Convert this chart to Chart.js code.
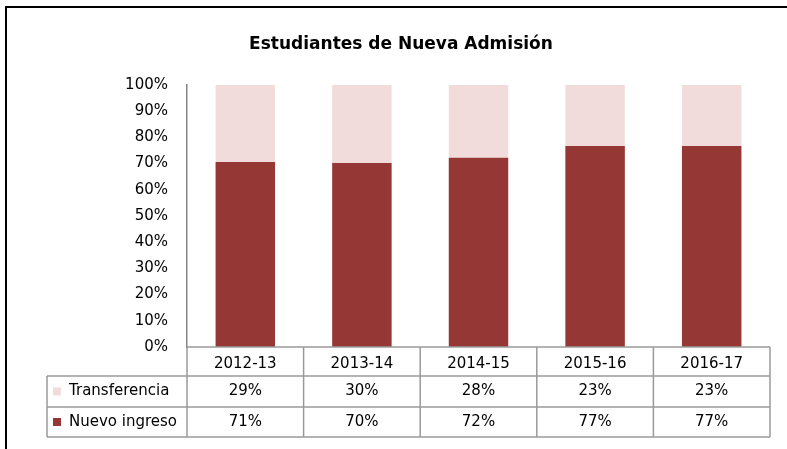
<!DOCTYPE html>
<html>
<head>
<meta charset="utf-8">
<script src="https://cdn.jsdelivr.net/npm/chart.js@4/dist/chart.umd.min.js"></script>
<style>
  html, body { margin: 0; padding: 0; background: #fff; }
  #wrap { position: relative; width: 787px; height: 449px; }
</style>
</head>
<body>
<div id="wrap"><canvas id="chart" width="787" height="449"></canvas></div>
<script>
// datos del gráfico
var cursos = ['2012-13', '2013-14', '2014-15', '2015-16', '2016-17'];
var nuevoIngreso = [70.6, 70.2, 72.2, 76.7, 76.7];
var transferencia = [29.4, 29.8, 27.8, 23.3, 23.3];
var yTicks = [0, 10, 20, 30, 40, 50, 60, 70, 80, 90, 100];

var colorNuevo = '#953735';
var colorTransf = '#F2DCDB';
var lineaTabla = '#9a9a9a';
var fuente = '"DejaVu Sans", sans-serif';

// tabla de datos debajo del eje x (como en Excel)
var tablaPlugin = {
    id: 'tabla',
    afterDraw: function (chart) {
        var ctx = chart.ctx;
        var area = chart.chartArea;
        var x = chart.scales.x;
        var y0 = area.bottom;
        var filas = [y0, y0 + 29, y0 + 60, y0 + 90];
        var izq = 47;
        var paso = (area.right - area.left) / cursos.length;

        ctx.save();
        ctx.strokeStyle = lineaTabla;
        ctx.lineWidth = 1.5;
        ctx.beginPath();
        // horizontales
        ctx.moveTo(area.left, filas[0]); ctx.lineTo(area.right, filas[0]);
        for (var i = 1; i < filas.length; i++) {
            ctx.moveTo(izq, filas[i]); ctx.lineTo(area.right, filas[i]);
        }
        // verticales
        for (var j = 0; j <= cursos.length; j++) {
            var px = j < cursos.length ? x.getPixelForValue(j) - paso / 2 : x.getPixelForValue(j - 1) + paso / 2;
            ctx.moveTo(px, filas[0]); ctx.lineTo(px, filas[3]);
        }
        ctx.moveTo(izq, filas[1]); ctx.lineTo(izq, filas[3]);
        ctx.stroke();

        // filas de series
        var series = [
            { nombre: 'Transferencia', datos: transferencia, color: colorTransf },
            { nombre: 'Nuevo ingreso', datos: nuevoIngreso, color: colorNuevo }
        ];
        ctx.font = '15px ' + fuente;
        ctx.textBaseline = 'middle';
        series.forEach(function (s, k) {
            var cy = (filas[k + 1] + filas[k + 2]) / 2;
            ctx.fillStyle = s.color;
            ctx.fillRect(izq + 6, cy - 4, 8, 8);
            ctx.fillStyle = '#000';
            ctx.textAlign = 'left';
            ctx.fillText(s.nombre, izq + 22, cy);
            ctx.textAlign = 'center';
            s.datos.forEach(function (v, idx) {
                ctx.fillText(Math.round(v) + '%', x.getPixelForValue(idx), cy);
            });
        });

        // marco del gráfico
        ctx.strokeStyle = '#000';
        ctx.lineWidth = 2;
        ctx.beginPath();
        ctx.moveTo(6, 449); ctx.lineTo(6, 7); ctx.lineTo(787, 7);
        ctx.stroke();
        ctx.restore();
    }
};

var config = {
    type: 'bar',
    data: {
        labels: cursos,
        datasets: [
            {
                label: 'Nuevo ingreso',
                data: nuevoIngreso,
                backgroundColor: colorNuevo,
                borderWidth: 0,
                barPercentage: 0.51,
                categoryPercentage: 1
            },
            {
                label: 'Transferencia',
                data: transferencia,
                backgroundColor: colorTransf,
                borderWidth: 0,
                barPercentage: 0.51,
                categoryPercentage: 1
            }
        ]
    },
    options: {
        responsive: false,
        animation: false,
        layout: { padding: { left: 32, right: 17, top: 0, bottom: 0 } },
        plugins: {
            legend: { display: false },
            tooltip: { enabled: false },
            title: {
                display: true,
                text: 'Estudiantes de Nueva Admisión',
                color: '#000',
                font: { family: fuente, size: 17, weight: 'bold' },
                padding: { top: 34, bottom: 30.6 }
            }
        },
        scales: {
            x: {
                stacked: true,
                grid: { display: false },
                border: { display: false },
                ticks: {
                    color: '#000',
                    font: { family: fuente, size: 15 },
                    padding: 0,
                    maxRotation: 0
                },
                afterFit: function (scale) { scale.height = 102; }
            },
            y: {
                stacked: true,
                min: 0,
                max: 100,
                grid: { display: false },
                border: { display: true, color: '#868686', width: 1.5 },
                afterBuildTicks: function (scale) {
                    scale.ticks = yTicks.map(function (v) { return { value: v }; });
                },
                ticks: {
                    color: '#000',
                    font: { family: fuente, size: 15 },
                    padding: 11,
                    callback: function (v) { return v + '%'; }
                },
                afterFit: function (scale) { scale.width = 155; }
            }
        }
    },
    plugins: [tablaPlugin]
};

var ctx = document.getElementById('chart').getContext('2d');
var chart = new Chart(ctx, config);
</script>
</body>
</html>
